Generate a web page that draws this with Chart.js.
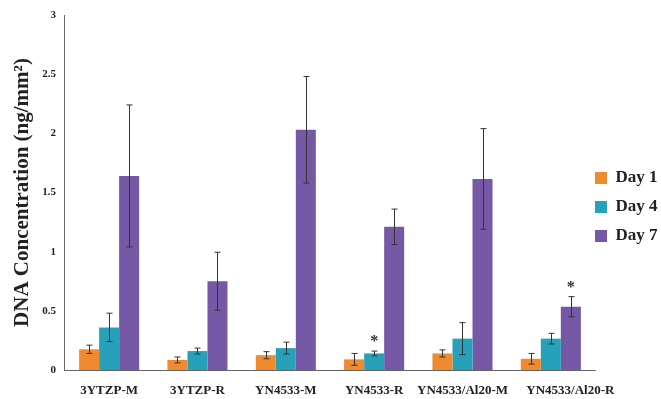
<!doctype html>
<html>
<head>
	<title>DNA Concentration</title>
	<script src="https://cdn.jsdelivr.net/npm/chart.js@4"></script>
	<style>
		body { margin: 0; background: #fff; }
		#wrap { width: 661px; height: 399px; }
	</style>
</head>
<body>
	<div id="wrap"><canvas id="canvas"></canvas></div>
	<script>
		const categories = ['3YTZP-M', '3YTZP-R', 'YN4533-M', 'YN4533-R', 'YN4533/Al20-M', 'YN4533/Al20-R'];
		const day1 = [0.175, 0.085, 0.125, 0.09, 0.14, 0.095];
		const day4 = [0.36, 0.16, 0.185, 0.14, 0.265, 0.265];
		const day7 = [1.64, 0.75, 2.03, 1.21, 1.615, 0.535];
		const err1 = [0.035, 0.025, 0.03, 0.05, 0.03, 0.045];
		const err4 = [0.12, 0.025, 0.05, 0.02, 0.135, 0.045];
		const err7 = [0.6, 0.245, 0.45, 0.15, 0.425, 0.085];
		const yTicks = [0, 0.5, 1, 1.5, 2, 2.5, 3];
		// [dataset, category] pairs marked with *
		const starred = [[1, 3], [2, 5]];

		const serif = '"Liberation Serif", "Times New Roman", serif';

		const errorBars = {
			id: 'errorBars',
			afterDatasetsDraw(chart) {
				const ctx = chart.ctx;
				const y = chart.scales.y;
				ctx.save();
				ctx.strokeStyle = '#333';
				ctx.lineWidth = 1;
				chart.data.datasets.forEach((ds, di) => {
					const meta = chart.getDatasetMeta(di);
					meta.data.forEach((bar, i) => {
						const v = ds.data[i], e = ds.errors[i];
						const top = y.getPixelForValue(v + e);
						const bot = y.getPixelForValue(v - e);
						const x = Math.round(bar.x) + 0.5;
						ctx.beginPath();
						ctx.moveTo(x, top); ctx.lineTo(x, bot);
						ctx.moveTo(x - 3, top); ctx.lineTo(x + 3, top);
						ctx.moveTo(x - 3, bot); ctx.lineTo(x + 3, bot);
						ctx.stroke();
					});
				});
				ctx.fillStyle = '#333';
				ctx.font = 'bold 16px ' + serif;
				ctx.textAlign = 'center';
				ctx.textBaseline = 'bottom';
				starred.forEach(([di, i]) => {
					const ds = chart.data.datasets[di];
					const bar = chart.getDatasetMeta(di).data[i];
					const top = y.getPixelForValue(ds.data[i] + ds.errors[i]);
					ctx.fillText('*', bar.x, top - 1);
				});
				ctx.restore();
			}
		};

		// narrow the legend box so the plot runs up to the legend swatches
		const legendPad = 12;
		const slimLegend = {
			id: 'slimLegend',
			beforeLayout(chart) {
				const legend = chart.legend;
				if (!legend || legend._slim) return;
				const fit = legend.fit;
				legend.fit = function() {
					fit.call(this);
					this.width = 66;
				};
				legend._slim = true;
			},
			afterLayout(chart) {
				chart.legend.left -= legendPad;
			}
		};

		const config = {
			type: 'bar',
			data: {
				labels: categories,
				datasets: [{
					label: 'Day 1',
					data: day1,
					errors: err1,
					backgroundColor: '#F08A2E'
				}, {
					label: 'Day 4',
					data: day4,
					errors: err4,
					backgroundColor: '#26A1B9'
				}, {
					label: 'Day 7',
					data: day7,
					errors: err7,
					backgroundColor: '#7559A6'
				}]
			},
			options: {
				responsive: true,
				maintainAspectRatio: false,
				animation: false,
				layout: { padding: { top: 15, right: 0, left: 4, bottom: 0 } },
				datasets: {
					bar: { categoryPercentage: 0.68, barPercentage: 1 }
				},
				scales: {
					x: {
						afterFit(scale) {
							scale.height = 29;
						},
						grid: { display: false, drawTicks: false },
						border: { color: '#666' },
						ticks: {
							color: '#222',
							padding: 13,
							maxRotation: 0,
							autoSkip: false,
							// the last label sits a little right of its group, as in the original
							callback(v, i) {
								const s = this.getLabelForValue(v);
								return i === categories.length - 1 ? '\u2003\u2003\u2003' + s : s;
							},
							font: { family: serif, size: 13, weight: 'bold' }
						}
					},
					y: {
						min: 0,
						max: 3,
						afterBuildTicks(scale) {
							scale.ticks = yTicks.map(v => ({ value: v }));
						},
						grid: { display: false, drawTicks: true, tickLength: 6, color: '#666' },
						border: { color: '#666' },
						ticks: {
							color: '#222',
							padding: 3,
							callback: v => String(v),
							font: { family: serif, size: 11, weight: 'bold' }
						},
						title: {
							display: true,
							text: 'DNA Concentration (ng/mm²)',
							color: '#222',
							padding: { top: 6, bottom: 4 },
							font: { family: serif, size: 21, weight: 'bold' }
						}
					}
				},
				plugins: {
					legend: {
						position: 'right',
						labels: {
							boxWidth: 12,
							boxHeight: 12,
							padding: legendPad,
							color: '#222',
							font: { family: serif, size: 17, weight: 'bold' }
						}
					},
					tooltip: { enabled: false }
				}
			},
			plugins: [errorBars, slimLegend]
		};

		window.onload = function() {
			const ctx = document.getElementById('canvas').getContext('2d');
			window.myBar = new Chart(ctx, config);
		};
	</script>
</body>
</html>
